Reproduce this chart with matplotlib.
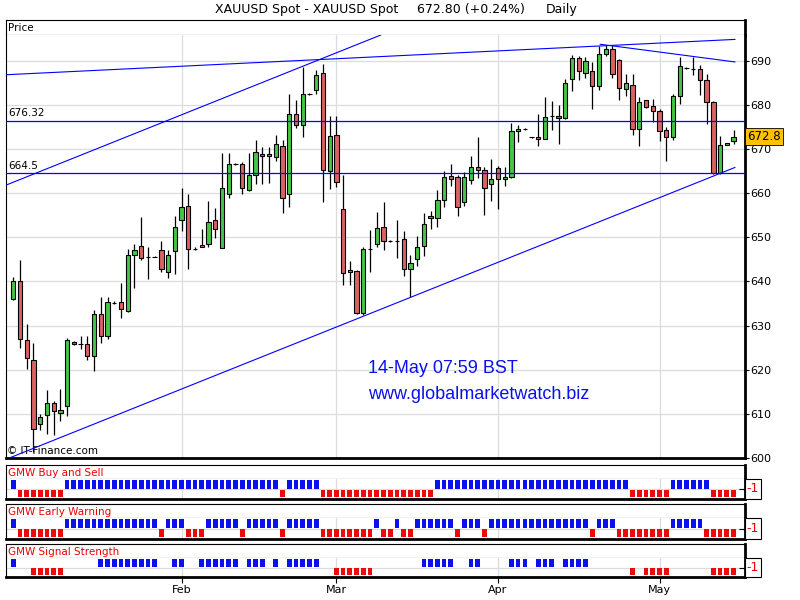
import matplotlib
matplotlib.use('Agg')
import matplotlib.pyplot as plt
from matplotlib.patches import Rectangle

# ---------------- data ----------------
opens = [636.1, 640.0, 626.7, 622.1, 607.7, 609.7, 612.5, 610.2, 611.7, 626.2,
         625.8, 625.8, 623.2, 632.6, 627.6, 635.2, 635.4, 633.3, 646.0, 648.1,
         645.6, 645.6, 647.2, 642.2, 646.8, 653.8, 657.0, 647.4, 648.3, 648.5,
         653.8, 647.5, 659.7, 666.5, 666.5, 660.8, 664.2, 668.8, 668.3, 668.2,
         670.6, 659.7, 677.9, 675.4, 682.5, 683.4, 687.3, 664.9, 673.2, 656.3,
         642.1, 642.4, 632.9, 647.3, 648.5, 652.3, 649.1, 649.1, 649.7, 642.8,
         645.1, 648.1, 654.7, 654.4, 658.4, 663.9, 663.6, 658.0, 662.9, 665.9,
         665.2, 662.0, 665.6, 663.1, 663.6, 674.1, 674.5, 672.6, 672.8, 672.2,
         677.4, 677.5, 677.0, 685.9, 690.5, 687.3, 687.6, 684.2, 691.6, 692.7,
         690.1, 683.6, 684.5, 674.5, 681.0, 679.8, 678.5, 674.3, 672.6, 681.9,
         688.4, 688.2, 688.2, 685.7, 680.7, 664.6, 670.9, 671.8]
highs = [640.9, 644.9, 630.3, 626.1, 610.0, 615.3, 613.0, 615.6, 627.2, 626.5,
         627.7, 627.7, 633.6, 636.4, 636.5, 635.5, 639.7, 647.4, 648.5, 654.5,
         647.9, 645.7, 649.1, 647.2, 654.8, 661.1, 659.8, 647.7, 651.9, 658.3,
         656.6, 669.0, 669.0, 666.7, 667.1, 669.0, 672.0, 670.5, 670.5, 673.2,
         672.1, 682.5, 681.1, 688.5, 682.7, 687.9, 689.2, 677.5, 677.5, 664.1,
         644.6, 642.6, 647.9, 651.6, 655.7, 658.0, 649.3, 653.8, 651.3, 645.9,
         650.2, 655.4, 656.0, 660.8, 665.0, 666.5, 664.0, 664.8, 668.4, 672.8,
         665.8, 667.7, 666.2, 665.8, 675.8, 675.4, 674.8, 672.8, 677.9, 681.7,
         680.8, 680.0, 685.9, 691.2, 691.1, 690.8, 689.7, 693.3, 693.6, 693.5,
         690.3, 686.9, 686.9, 681.7, 681.1, 681.2, 679.1, 675.0, 682.5, 690.8,
         688.6, 690.8, 688.9, 686.9, 680.8, 673.0, 671.4, 674.3]
lows = [635.8, 624.8, 620.2, 601.4, 606.3, 605.4, 605.3, 608.4, 609.4, 625.5,
        624.6, 622.3, 619.6, 626.1, 626.9, 634.9, 631.6, 633.1, 638.4, 644.9,
        640.5, 645.5, 642.2, 640.7, 641.6, 651.5, 642.8, 647.2, 647.7, 647.7,
        649.8, 647.6, 658.9, 666.3, 659.7, 660.5, 662.1, 662.1, 662.3, 667.3,
        655.5, 656.9, 674.7, 672.6, 682.3, 682.5, 658.0, 661.0, 661.4, 639.2,
        639.2, 632.6, 632.4, 642.2, 647.9, 647.2, 648.9, 645.3, 641.2, 636.4,
        643.5, 645.8, 651.9, 652.3, 656.9, 661.7, 654.9, 657.0, 662.0, 663.5,
        655.1, 658.3, 656.3, 661.6, 663.5, 671.5, 674.2, 672.4, 670.6, 672.2,
        674.3, 671.1, 676.8, 683.1, 685.7, 686.0, 679.1, 683.4, 691.0, 686.0,
        681.0, 681.9, 673.1, 670.6, 679.3, 676.0, 671.8, 667.3, 672.0, 680.2,
        688.2, 686.7, 682.1, 675.6, 664.4, 664.3, 670.8, 671.1]
closes = [640.0, 626.9, 622.7, 606.5, 609.2, 612.5, 610.7, 610.9, 626.7, 625.8,
          625.8, 623.2, 632.6, 627.6, 635.4, 635.2, 633.7, 646.0, 647.2, 645.3,
          645.6, 645.6, 642.8, 646.0, 652.4, 656.8, 647.4, 647.4, 647.9, 653.4,
          651.9, 661.2, 666.5, 666.5, 661.1, 664.1, 669.3, 668.3, 668.8, 671.1,
          658.9, 677.9, 675.4, 682.5, 682.5, 686.7, 665.2, 672.9, 662.4, 641.8,
          642.6, 632.9, 647.4, 647.3, 652.0, 649.1, 649.1, 649.1, 642.8, 644.1,
          647.7, 652.9, 654.4, 658.4, 663.6, 663.3, 656.8, 663.6, 665.9, 665.2,
          661.1, 663.3, 663.1, 663.6, 674.1, 674.5, 674.5, 672.6, 672.2, 677.3,
          677.4, 677.0, 685.0, 690.5, 687.6, 689.8, 684.2, 691.6, 692.7, 686.9,
          683.8, 685.0, 674.5, 680.7, 679.4, 678.7, 674.1, 672.6, 681.9, 688.7,
          688.4, 688.2, 685.5, 680.6, 664.6, 670.9, 671.3, 672.8]

buy_sell = [1, -1, -1, -1, -1, -1, -1, -1, 1, 1,
            1, 1, 1, 1, 1, 1, 1, 1, 1, 1,
            1, 1, 1, 1, 1, 1, 1, 1, 1, 1,
            1, 1, 1, 1, 1, 1, 1, 1, 1, 1,
            -1, 1, 1, 1, 1, 1, -1, -1, -1, -1,
            -1, -1, -1, -1, -1, -1, -1, -1, -1, -1,
            -1, -1, -1, 1, 1, 1, 1, 1, 1, 1,
            1, 1, 1, 1, 1, 1, 1, 1, 1, 1,
            1, 1, 1, 1, 1, 1, 1, 1, 1, 1,
            1, 1, -1, -1, -1, -1, -1, -1, 1, 1,
            1, 1, 1, 1, -1, -1, -1, -1]
early_warning = [1, -1, -1, -1, -1, -1, -1, -1, 1, 1,
                 1, 1, 1, 1, 1, 1, 1, 1, 1, 1,
                 1, 1, -1, 1, 1, 1, -1, -1, -1, 1,
                 1, 1, 1, 1, -1, 1, 1, 1, 1, 1,
                 -1, 1, 1, 1, 1, 1, -1, -1, -1, -1,
                 -1, -1, -1, -1, 1, -1, -1, 1, -1, -1,
                 1, 1, 1, 1, 1, 1, -1, 1, 1, 1,
                 -1, 1, 1, 1, 1, 1, 1, 1, 1, 1,
                 1, 1, 1, 1, 1, 1, -1, 1, 1, 1,
                 -1, -1, -1, -1, -1, -1, -1, -1, 1, 1,
                 1, 1, 1, -1, -1, -1, -1, -1]
signal_strength = [1, 0, 0, -1, -1, -1, -1, -1, 0, 0,
                   0, 0, 0, 1, 1, 1, 1, 1, 1, 1,
                   1, 1, 0, 0, 1, 1, 0, 0, 1, 1,
                   1, 1, 1, 1, 0, 1, 1, 1, 0, 1,
                   0, 1, 1, 1, 1, 1, 0, 0, -1, -1,
                   -1, -1, -1, -1, 0, 0, 0, 0, 0, 0,
                   0, 1, 1, 1, 1, 1, 0, 0, 1, 1,
                   0, 0, 0, 0, 1, 1, 1, 0, 1, 1,
                   1, 0, 1, 1, 1, 1, 0, 0, 0, 0,
                   0, 0, -1, 0, -1, -1, -1, -1, 0, 0,
                   0, 0, 0, 0, -1, -1, -1, -1]

month_labels = ['Feb', 'Mar', 'Apr', 'May']
month_bars = [25, 48, 72, 96]
price_ticks = [600, 610, 620, 630, 640, 650, 660, 670, 680, 690]
level_lines = [676.32, 664.5]
level_labels = ['676.32', '664.5']
trend_x = [[-1.08, 107.2], [-1.08, 54.6], [-1.08, 107.2], [87.2, 107.2]]
trend_y = [[599.7, 665.8], [661.8, 695.8], [686.8, 694.8], [693.7, 689.7]]
last_price = 672.8
panel_names = ['GMW Buy and Sell', 'GMW Early Warning', 'GMW Signal Strength']

# ---------------- layout helpers ----------------
W, H = 800, 600
fig = plt.figure(figsize=(8, 6), dpi=100, facecolor='white')


def ax_px(x0, y0, x1, y1):
    return fig.add_axes([x0 / W, 1 - y1 / H, (x1 - x0) / W, (y1 - y0) / H])


XL, XR = 6, 745
XLIM = (-1.08, 108.7)
GRID = '#dcdcdc'
GREEN = '#46c646'
RED = '#dc6262'
BBLUE = '#0a10ee'
BRED = '#ee0a0a'


def style_frame(ax, thick_right=True, thick_bottom=True):
    for s in ax.spines.values():
        s.set_color('black')
        s.set_linewidth(0.8)
    if thick_right:
        ax.spines['right'].set_linewidth(2)
    if thick_bottom:
        ax.spines['bottom'].set_linewidth(2)


# ---------------- title ----------------
fig.text(215 / W, 1 - 10 / H, 'XAUUSD Spot - XAUUSD Spot', fontsize=9,
         ha='left', va='center')
fig.text(417 / W, 1 - 10 / H, '672.80 (+0.24%)', fontsize=9, ha='left', va='center')
fig.text(546 / W, 1 - 10 / H, 'Daily', fontsize=9, ha='left', va='center')

# ---------------- price header strip ----------------
axh = ax_px(XL, 20, XR, 35)
axh.set_xticks([]); axh.set_yticks([])
style_frame(axh, thick_bottom=False)
axh.text(0.003, 0.45, 'Price', transform=axh.transAxes, fontsize=7.5,
         ha='left', va='center')

# ---------------- main price chart ----------------
ax = ax_px(XL, 35, XR, 458)
ax.set_xlim(*XLIM)
ax.set_ylim(600, 695.8)
style_frame(ax)
ax.spines['top'].set_visible(False)
for p in price_ticks:
    ax.axhline(p, color=GRID, lw=0.9, zorder=0)
for m in month_bars:
    ax.axvline(m, color=GRID, lw=0.9, zorder=0)

xs = list(range(len(opens)))
ax.vlines(xs, lows, highs, color='black', lw=0.9, zorder=2)
body_h = [c - o for o, c in zip(opens, closes)]
cols = [GREEN if c >= o else RED for o, c in zip(opens, closes)]
ax.bar(xs, body_h, bottom=opens, width=0.64, color=cols, edgecolor='black',
       linewidth=0.8, zorder=3)

for lv, lab in zip(level_lines, level_labels):
    ax.axhline(lv, color='#0000ff', lw=0.9, zorder=4)
    ax.text(-0.8, lv + 0.6, lab, fontsize=7.5, ha='left', va='bottom', zorder=5)
for tx, ty in zip(trend_x, trend_y):
    ax.plot(tx, ty, color='#0000ff', lw=0.8, zorder=4, clip_on=True)

ax.yaxis.tick_right()
ax.set_yticks(price_ticks)
ax.set_yticklabels([str(p) for p in price_ticks], fontsize=8)
ax.tick_params(axis='y', direction='out', length=3, pad=1, width=0.8)
ax.set_xticks([])

# last price box
ax.text(1.003, (last_price - 600) / 95.8, f'{last_price:.1f}', transform=ax.transAxes,
        fontsize=8.5, ha='left', va='center', zorder=6,
        bbox=dict(boxstyle='square,pad=0.15', facecolor='#ffc000', edgecolor='black', lw=0.6))

ax.text(0.49, 0.200, '14-May 07:59 BST', transform=ax.transAxes, fontsize=13,
        family='Liberation Sans', color='#0a10ee', ha='left', va='baseline')
ax.text(0.49, 0.1385, 'www.globalmarketwatch.biz', transform=ax.transAxes, fontsize=13,
        family='Liberation Sans', color='#0a10ee', ha='left', va='baseline')
ax.text(0.002, 0.004, '\u00a9 IT-Finance.com', transform=ax.transAxes, fontsize=7.5,
        ha='left', va='bottom')

# ---------------- indicator panels ----------------
panel_rows = [(465, 479, 499), (504, 518, 539), (544, 558, 577)]
series = [buy_sell, early_warning, signal_strength]
for k, ((ytop, ymid, ybot), name, ser) in enumerate(zip(panel_rows, panel_names, series)):
    hx = ax_px(XL, ytop, XR, ymid)
    hx.set_xticks([]); hx.set_yticks([])
    style_frame(hx, thick_bottom=False)
    hx.text(0.003, 0.45, name, transform=hx.transAxes, fontsize=7.5,
            color='#ee0000', ha='left', va='center')

    dx = ax_px(XL, ymid, XR, ybot)
    dx.set_xlim(*XLIM)
    dx.set_ylim(-1.1, 1.1)
    style_frame(dx)
    dx.spines['top'].set_visible(False)
    dx.axhline(0, color=GRID, lw=0.9, zorder=0)
    for m in month_bars:
        dx.axvline(m, color=GRID, lw=0.9, zorder=0)
    bx = [i for i, v in enumerate(ser) if v > 0]
    rx = [i for i, v in enumerate(ser) if v < 0]
    dx.bar(bx, [1.0] * len(bx), bottom=0.03, width=0.7, color=BBLUE, lw=0, zorder=2)
    dx.bar(rx, [-0.76] * len(rx), bottom=-0.1, width=0.7, color=BRED, lw=0, zorder=2)
    dx.set_yticks([0])
    dx.yaxis.tick_right()
    dx.set_yticklabels([''])
    dx.tick_params(axis='y', direction='in', length=4, width=0.8)
    # "-1" box
    fig.patches.append(Rectangle((745 / W, 1 - ybot / H), 16 / W, (ybot - ymid) / H,
                                 transform=fig.transFigure, facecolor='white',
                                 edgecolor='black', lw=0.8))
    fig.text(753 / W, 1 - ((ymid + ybot) / 2) / H, '-1', color='#ee0000', fontsize=9,
             ha='center', va='center')
    if k == 2:
        dx.set_xticks(month_bars)
        dx.set_xticklabels(month_labels, fontsize=8)
        dx.tick_params(axis='x', direction='out', length=4, width=0.8, pad=2)
    else:
        dx.set_xticks([])

fig.savefig('out.png', dpi=100, facecolor='white')
